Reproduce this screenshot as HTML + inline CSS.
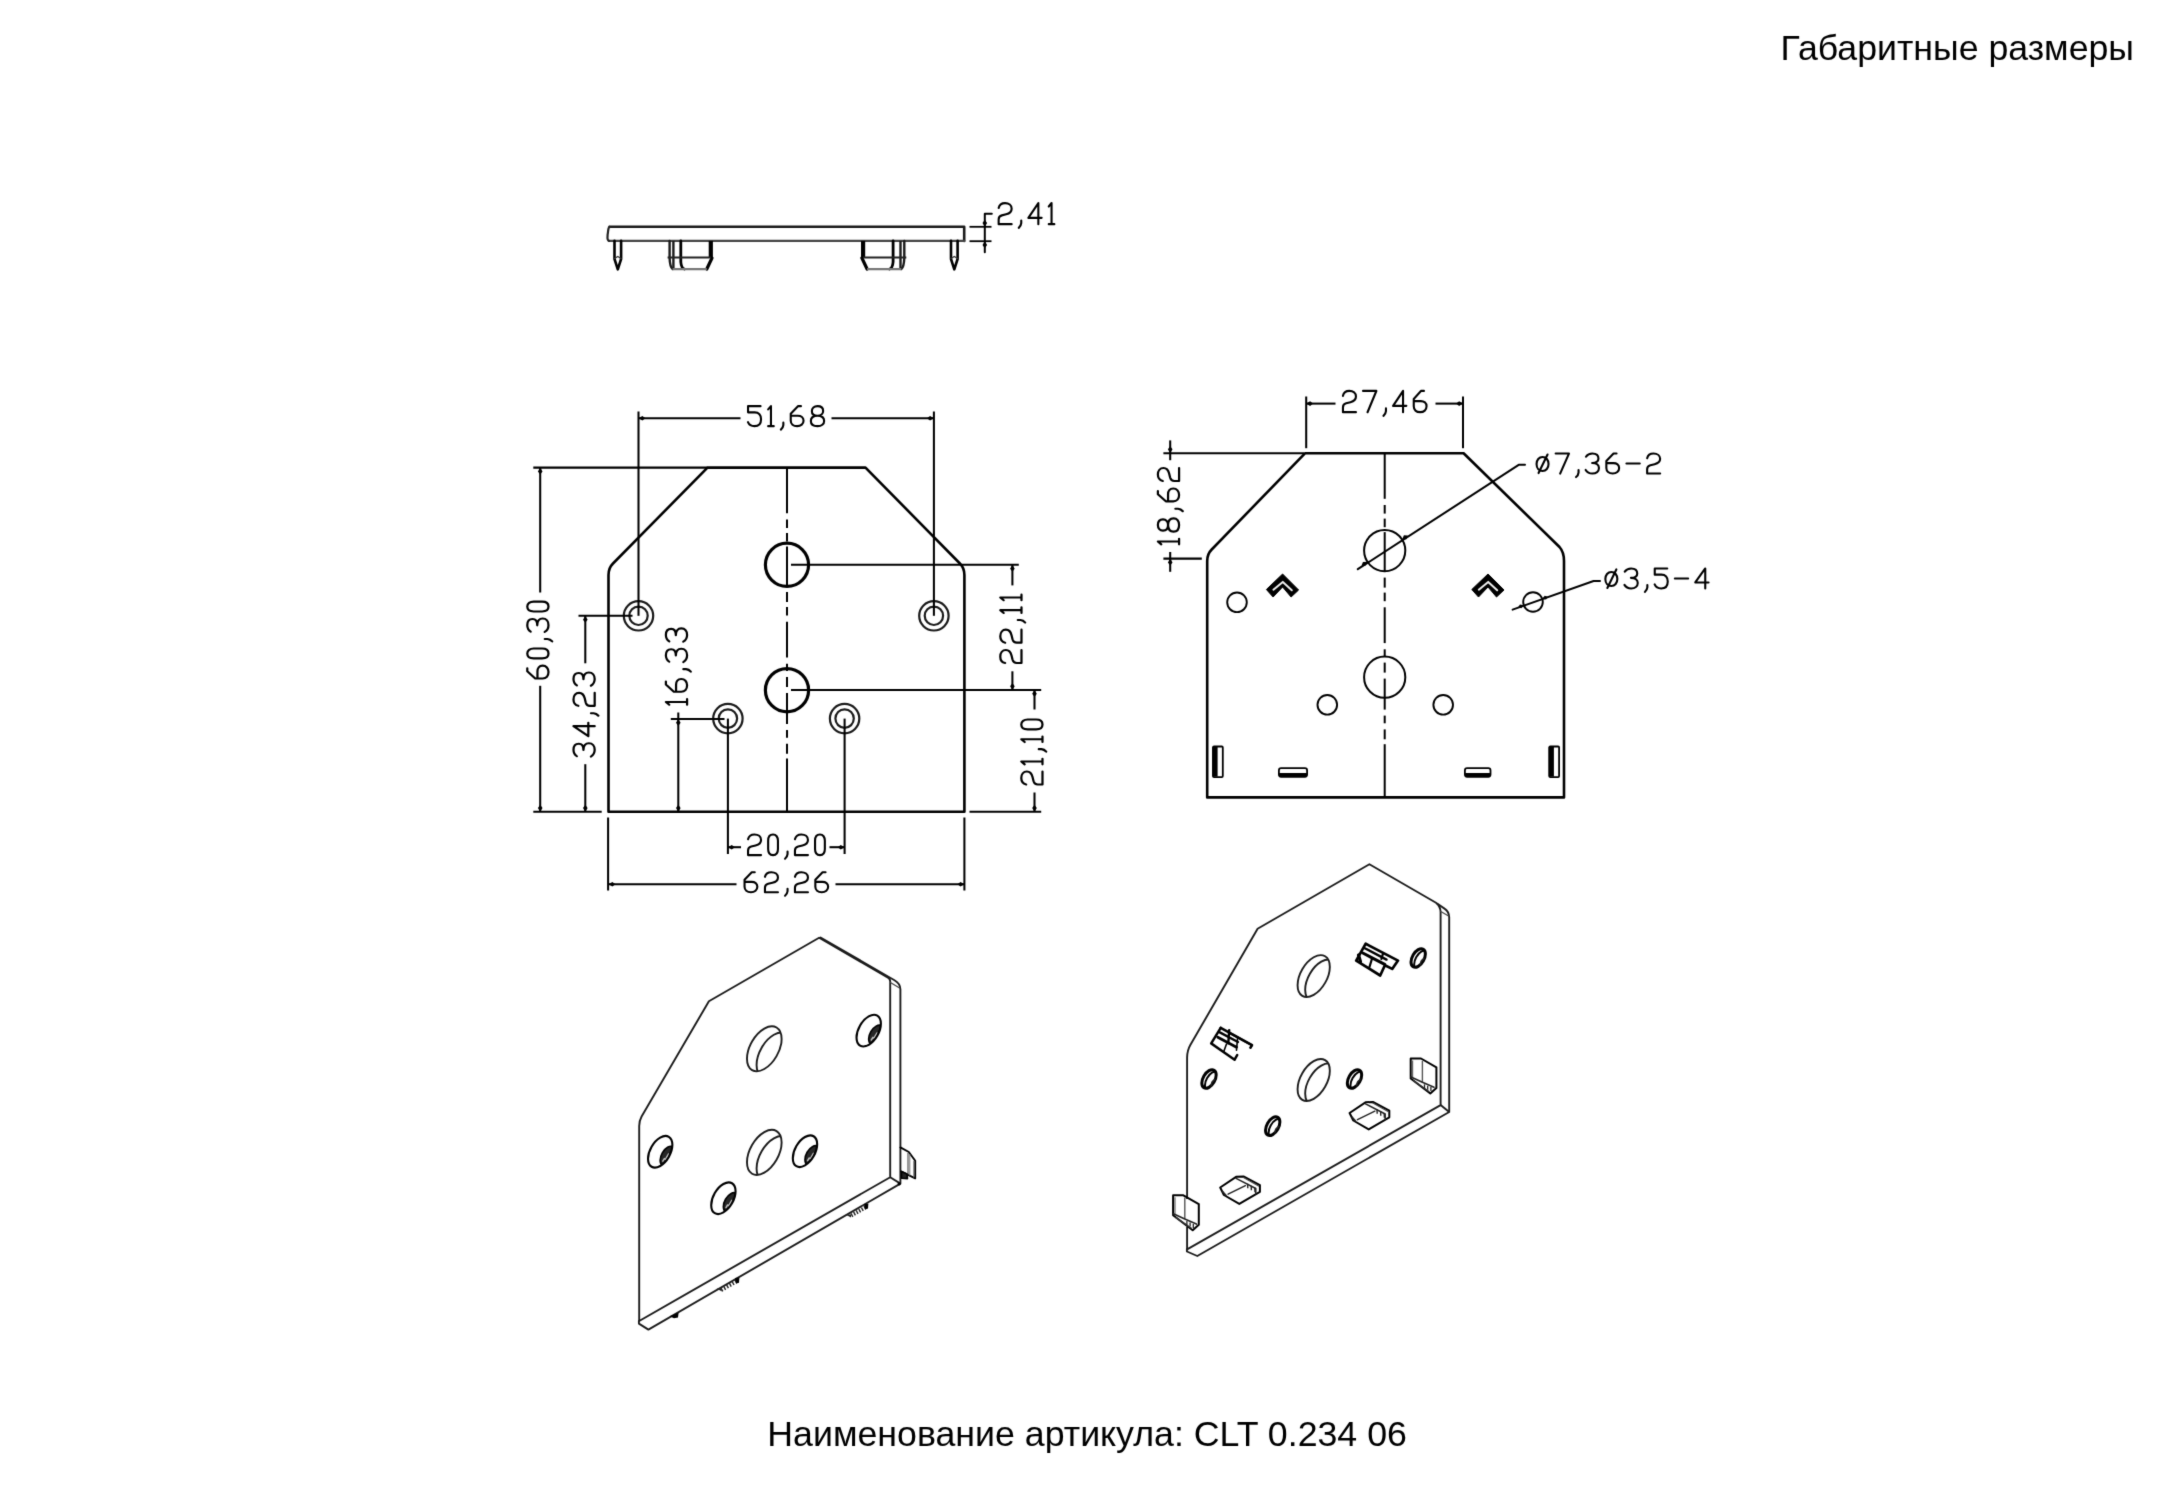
<!DOCTYPE html>
<html lang="ru"><head><meta charset="utf-8"><title>CLT 0.234 06</title>
<style>html,body{margin:0;padding:0;background:#fff;}body{width:2174px;height:1500px;overflow:hidden;font-family:"Liberation Sans",sans-serif;}svg{display:block;}</style></head>
<body><svg width="2174" height="1500" viewBox="0 0 2174 1500"><defs><filter id="soft" x="0" y="0" width="100%" height="100%" filterUnits="userSpaceOnUse" color-interpolation-filters="sRGB"><feConvolveMatrix order="3" kernelMatrix="0.012 0.086 0.012 0.086 0.608 0.086 0.012 0.086 0.012" edgeMode="duplicate" preserveAlpha="false"/></filter><clipPath id="lh1"><circle r="24.6" transform="matrix(0.704,-0.402,0,0.822,764.30,1048.80)"/></clipPath><clipPath id="lh2"><circle r="24.6" transform="matrix(0.704,-0.402,0,0.822,764.30,1152.40)"/></clipPath><clipPath id="ls0"><circle r="17.3" transform="matrix(0.704,-0.402,0,0.822,660.20,1151.80)"/></clipPath><clipPath id="ls1"><circle r="17.3" transform="matrix(0.704,-0.402,0,0.822,805.00,1151.20)"/></clipPath><clipPath id="ls2"><circle r="17.3" transform="matrix(0.704,-0.402,0,0.822,723.40,1198.20)"/></clipPath><clipPath id="ls3"><circle r="17.3" transform="matrix(0.704,-0.402,0,0.822,868.70,1030.60)"/></clipPath><clipPath id="rh1"><circle r="22.9" transform="matrix(0.704,-0.402,0,0.822,1313.70,976.10)"/></clipPath><clipPath id="rh2"><circle r="22.9" transform="matrix(0.704,-0.402,0,0.822,1313.70,1080.00)"/></clipPath><clipPath id="rs0"><circle r="10.6" transform="matrix(0.704,-0.402,0,0.822,1209.00,1079.00)"/></clipPath><clipPath id="rs1"><circle r="10.6" transform="matrix(0.704,-0.402,0,0.822,1272.70,1126.20)"/></clipPath><clipPath id="rs2"><circle r="10.6" transform="matrix(0.704,-0.402,0,0.822,1354.50,1079.00)"/></clipPath><clipPath id="rs3"><circle r="10.6" transform="matrix(0.704,-0.402,0,0.822,1418.20,958.00)"/></clipPath></defs><rect width="2174" height="1500" fill="#fff"/><g id="drawing" filter="url(#soft)"><text x="2134" y="60.1" text-anchor="end" font-family="'Liberation Sans', sans-serif" font-size="35.7" fill="#000" id="hd">Габаритные размеры</text>
<text x="767.3" y="1446.4" font-family="'Liberation Sans', sans-serif" font-size="35.72" fill="#000" id="cap">Наименование артикула: CLT 0.234 06</text>
<path d="M609.6,226.8 L964.2,226.8 L964.2,240.9" fill="none" stroke="#1a1a1a" stroke-width="2.6" stroke-linejoin="round" stroke-linecap="round" />
<path d="M964.2,240.9 L609.1,240.9" fill="none" stroke="#444" stroke-width="2.4" stroke-linejoin="round" stroke-linecap="round" />
<path d="M609.6,226.8 C607.9,227.8 608.4,230.8 607.6,234.8 C607.3000000000001,238.8 607.6,240.9 609.1,240.9" fill="none" stroke="#222" stroke-width="2.2" stroke-linejoin="round" stroke-linecap="round" />
<path d="M614.5,240.9 L614.5,259 L617.8,269.3 L621.0999999999999,259 L621.0999999999999,240.9" fill="none" stroke="#000" stroke-width="2.6" stroke-linejoin="round" stroke-linecap="round" />
<path d="M614.5,258.5 L617.8,256.5 L621.0999999999999,258.5" fill="none" stroke="#333" stroke-width="1.4" stroke-linejoin="round" stroke-linecap="round" />
<path d="M951.0,240.9 L951.0,259 L954.3,269.3 L957.5999999999999,259 L957.5999999999999,240.9" fill="none" stroke="#000" stroke-width="2.6" stroke-linejoin="round" stroke-linecap="round" />
<path d="M951.0,258.5 L954.3,256.5 L957.5999999999999,258.5" fill="none" stroke="#333" stroke-width="1.4" stroke-linejoin="round" stroke-linecap="round" />
<path d="M669.6,240.9 L669.6,258 Q669.9,267 672.6,269" fill="none" stroke="#1a1a1a" stroke-width="2.4" stroke-linejoin="round" stroke-linecap="round" />
<line x1="673.40" y1="240.90" x2="673.40" y2="268.60" stroke="#1a1a1a" stroke-width="2.4" />
<path d="M680.8000000000001,240.9 L680.8000000000001,262 Q681.3000000000001,268 684.3000000000001,269" fill="none" stroke="#000" stroke-width="2.8" stroke-linejoin="round" stroke-linecap="round" />
<line x1="710.80" y1="240.90" x2="710.80" y2="258.00" stroke="#000" stroke-width="4.2" />
<path d="M712.0000000000001,258 L706.8000000000001,269" fill="none" stroke="#000" stroke-width="3.2" stroke-linejoin="round" stroke-linecap="round" />
<line x1="667.60" y1="257.50" x2="710.80" y2="257.50" stroke="#222" stroke-width="2.2" />
<line x1="672.60" y1="269.20" x2="706.80" y2="269.20" stroke="#777" stroke-width="2.2" />
<path d="M904.3,240.9 L904.3,258 Q904.0,267 901.3,269" fill="none" stroke="#1a1a1a" stroke-width="2.4" stroke-linejoin="round" stroke-linecap="round" />
<line x1="900.50" y1="240.90" x2="900.50" y2="268.60" stroke="#1a1a1a" stroke-width="2.4" />
<path d="M893.0999999999999,240.9 L893.0999999999999,262 Q892.5999999999999,268 889.5999999999999,269" fill="none" stroke="#000" stroke-width="2.8" stroke-linejoin="round" stroke-linecap="round" />
<line x1="863.10" y1="240.90" x2="863.10" y2="258.00" stroke="#000" stroke-width="4.2" />
<path d="M861.8999999999999,258 L867.0999999999999,269" fill="none" stroke="#000" stroke-width="3.2" stroke-linejoin="round" stroke-linecap="round" />
<line x1="906.30" y1="257.50" x2="863.10" y2="257.50" stroke="#222" stroke-width="2.2" />
<line x1="901.30" y1="269.20" x2="867.10" y2="269.20" stroke="#777" stroke-width="2.2" />
<line x1="969.50" y1="226.80" x2="991.50" y2="226.80" stroke="#000" stroke-width="1.8" />
<line x1="969.50" y1="241.20" x2="991.50" y2="241.20" stroke="#000" stroke-width="1.8" />
<path d="M991.8,213.8 L984.8,213.8 L984.8,252.3" fill="none" stroke="#000" stroke-width="2.0" stroke-linejoin="round" stroke-linecap="round" />
<polygon points="984.80,226.80 982.50,222.95 984.80,219.80 987.10,222.95" fill="#000"/>
<polygon points="984.80,241.20 987.10,245.05 984.80,248.20 982.50,245.05" fill="#000"/>
<g transform="translate(997.30,225.30) scale(1.0,1.055)" fill="none" stroke="#000" stroke-width="2.1" stroke-linecap="round" stroke-linejoin="round"><path transform="translate(1.05,-21.05)" d="M0.3,4.6 C1,1.5 3.5,0 6.7,0 C10.5,0 13.3,2 13.3,5.3 C13.3,8.2 11.3,9.8 7.8,10.6 L3.5,11.6 C1.2,12.2 0.3,13.6 0.3,15.5 L0.3,20 L13.3,20"/><path transform="translate(21.45,-21.05)" d="M2.5,16.5 L2.5,19 C2.3,21 1.2,22.5 0,23.5"/><path transform="translate(31.05,-21.05)" d="M10,20 L10,0 L0,14 L13.3,14"/><path transform="translate(51.45,-21.05)" d="M0,3.2 L2.8,0 L2.8,20 M0,20 L5.6,20"/></g>
<path d="M608.5,811.8 L608.5,575 Q608.5,568 613.0,563.5 L707.5,467.6 L865.5,467.6 L959.9,563.5 Q964.4,568 964.4,575 L964.4,811.8 Z" fill="none" stroke="#000" stroke-width="2.6" stroke-linejoin="round" stroke-linecap="round" />
<line x1="787.00" y1="467.60" x2="787.00" y2="513.20" stroke="#000" stroke-width="2.0" />
<line x1="787.00" y1="519.40" x2="787.00" y2="528.00" stroke="#000" stroke-width="2.0" />
<line x1="787.00" y1="533.00" x2="787.00" y2="541.60" stroke="#000" stroke-width="2.0" />
<line x1="787.00" y1="546.50" x2="787.00" y2="586.00" stroke="#000" stroke-width="2.0" />
<line x1="787.00" y1="592.00" x2="787.00" y2="602.00" stroke="#000" stroke-width="2.0" />
<line x1="787.00" y1="607.00" x2="787.00" y2="615.60" stroke="#000" stroke-width="2.0" />
<line x1="787.00" y1="621.70" x2="787.00" y2="657.50" stroke="#000" stroke-width="2.0" />
<line x1="787.00" y1="663.70" x2="787.00" y2="671.00" stroke="#000" stroke-width="2.0" />
<line x1="787.00" y1="677.00" x2="787.00" y2="687.00" stroke="#000" stroke-width="2.0" />
<line x1="787.00" y1="693.00" x2="787.00" y2="724.00" stroke="#000" stroke-width="2.0" />
<line x1="787.00" y1="730.00" x2="787.00" y2="737.70" stroke="#000" stroke-width="2.0" />
<line x1="787.00" y1="743.80" x2="787.00" y2="753.70" stroke="#000" stroke-width="2.0" />
<line x1="787.00" y1="758.60" x2="787.00" y2="811.10" stroke="#000" stroke-width="2.0" />
<circle cx="787.00" cy="564.80" r="21.60" fill="none" stroke="#000" stroke-width="3.2"/>
<circle cx="787.00" cy="690.20" r="21.60" fill="none" stroke="#000" stroke-width="3.2"/>
<circle cx="638.50" cy="615.80" r="14.70" fill="none" stroke="#1a1a1a" stroke-width="2.2"/>
<circle cx="638.50" cy="615.80" r="9.20" fill="none" stroke="#1a1a1a" stroke-width="2.2"/>
<circle cx="933.90" cy="615.80" r="14.70" fill="none" stroke="#1a1a1a" stroke-width="2.2"/>
<circle cx="933.90" cy="615.80" r="9.20" fill="none" stroke="#1a1a1a" stroke-width="2.2"/>
<circle cx="727.90" cy="718.60" r="14.70" fill="none" stroke="#1a1a1a" stroke-width="2.2"/>
<circle cx="727.90" cy="718.60" r="9.20" fill="none" stroke="#1a1a1a" stroke-width="2.2"/>
<circle cx="844.60" cy="718.60" r="14.70" fill="none" stroke="#1a1a1a" stroke-width="2.2"/>
<circle cx="844.60" cy="718.60" r="9.20" fill="none" stroke="#1a1a1a" stroke-width="2.2"/>
<line x1="638.50" y1="411.50" x2="638.50" y2="615.80" stroke="#000" stroke-width="2.05" />
<line x1="933.90" y1="411.50" x2="933.90" y2="615.80" stroke="#000" stroke-width="2.05" />
<line x1="638.50" y1="418.20" x2="740.50" y2="418.20" stroke="#000" stroke-width="2.05" />
<line x1="831.50" y1="418.20" x2="933.90" y2="418.20" stroke="#000" stroke-width="2.05" />
<polygon points="638.50,418.20 642.35,415.90 645.50,418.20 642.35,420.50" fill="#000"/>
<polygon points="933.90,418.20 930.05,420.50 926.90,418.20 930.05,415.90" fill="#000"/>
<g transform="translate(746.70,427.20) scale(1.0)" fill="none" stroke="#000" stroke-width="2.1" stroke-linecap="round" stroke-linejoin="round"><path transform="translate(1.05,-21.05)" d="M12.8,0 L0.3,0 L0.3,6.2 L7,6.2 C11,6.2 13.3,9 13.3,13 C13.3,17.3 10.8,20 6.7,20 C3.6,20 1.3,18.6 0.2,16"/><path transform="translate(21.45,-21.05)" d="M0,3.2 L2.8,0 L2.8,20 M0,20 L5.6,20"/><path transform="translate(34.15,-21.05)" d="M2.5,16.5 L2.5,19 C2.3,21 1.2,22.5 0,23.5"/><path transform="translate(43.75,-21.05)" d="M10.5,0 L7.5,0 L0.3,7.5 L0.3,14.5 C0.3,17.8 2.8,20 6.7,20 C10.4,20 13.1,17.8 13.1,14.5 C13.1,11.2 10.6,9.6 7.4,9.6 L0.3,9.6"/><path transform="translate(64.15,-21.05)" d="M6.65,0 C3.2,0 1,1.9 1,4.8 C1,7.7 3.2,9.6 6.65,9.6 C10.1,9.6 12.3,7.7 12.3,4.8 C12.3,1.9 10.1,0 6.65,0 Z M6.65,9.6 C2.6,9.6 0,11.6 0,14.8 C0,18 2.6,20 6.65,20 C10.7,20 13.3,18 13.3,14.8 C13.3,11.6 10.7,9.6 6.65,9.6 Z"/></g>
<line x1="533.30" y1="467.60" x2="707.50" y2="467.60" stroke="#000" stroke-width="2.05" />
<line x1="533.30" y1="811.80" x2="601.70" y2="811.80" stroke="#000" stroke-width="2.05" />
<line x1="540.20" y1="467.60" x2="540.20" y2="592.50" stroke="#000" stroke-width="2.05" />
<line x1="540.20" y1="685.80" x2="540.20" y2="811.80" stroke="#000" stroke-width="2.05" />
<polygon points="540.20,467.60 542.50,471.45 540.20,474.60 537.90,471.45" fill="#000"/>
<polygon points="540.20,811.80 537.90,807.95 540.20,804.80 542.50,807.95" fill="#000"/>
<g transform="translate(549.60,679.80) rotate(-90) scale(1,1.06)" fill="none" stroke="#000" stroke-width="2.1" stroke-linecap="round" stroke-linejoin="round"><path transform="translate(1.05,-21.05)" d="M10.5,0 L7.5,0 L0.3,7.5 L0.3,14.5 C0.3,17.8 2.8,20 6.7,20 C10.4,20 13.1,17.8 13.1,14.5 C13.1,11.2 10.6,9.6 7.4,9.6 L0.3,9.6"/><path transform="translate(21.45,-21.05)" d="M4.9,0 C1.8,0 0,2.5 0,6 L0,14 C0,17.5 1.8,20 4.9,20 C8,20 9.8,17.5 9.8,14 L9.8,6 C9.8,2.5 8,0 4.9,0 Z"/><path transform="translate(38.35,-21.05)" d="M2.5,16.5 L2.5,19 C2.3,21 1.2,22.5 0,23.5"/><path transform="translate(47.95,-21.05)" d="M0.3,3.2 C1.8,1 4,0 6.7,0 C10.5,0 12.8,1.8 12.8,5 C12.8,7.8 10.5,9.4 6.5,9.4 C11,9.4 13.3,11.4 13.3,14.5 C13.3,18 10.5,20 6.7,20 C3.8,20 1.5,18.9 0,16.4"/><path transform="translate(68.35,-21.05)" d="M4.9,0 C1.8,0 0,2.5 0,6 L0,14 C0,17.5 1.8,20 4.9,20 C8,20 9.8,17.5 9.8,14 L9.8,6 C9.8,2.5 8,0 4.9,0 Z"/></g>
<line x1="578.50" y1="615.80" x2="632.50" y2="615.80" stroke="#000" stroke-width="2.05" />
<line x1="585.30" y1="615.80" x2="585.30" y2="663.30" stroke="#000" stroke-width="2.05" />
<line x1="585.30" y1="764.20" x2="585.30" y2="811.80" stroke="#000" stroke-width="2.05" />
<polygon points="585.30,615.80 587.60,619.65 585.30,622.80 583.00,619.65" fill="#000"/>
<polygon points="585.30,811.80 583.00,807.95 585.30,804.80 587.60,807.95" fill="#000"/>
<g transform="translate(595.80,757.60) rotate(-90) scale(1,1.06)" fill="none" stroke="#000" stroke-width="2.1" stroke-linecap="round" stroke-linejoin="round"><path transform="translate(1.05,-21.05)" d="M0.3,3.2 C1.8,1 4,0 6.7,0 C10.5,0 12.8,1.8 12.8,5 C12.8,7.8 10.5,9.4 6.5,9.4 C11,9.4 13.3,11.4 13.3,14.5 C13.3,18 10.5,20 6.7,20 C3.8,20 1.5,18.9 0,16.4"/><path transform="translate(21.45,-21.05)" d="M10,20 L10,0 L0,14 L13.3,14"/><path transform="translate(41.85,-21.05)" d="M2.5,16.5 L2.5,19 C2.3,21 1.2,22.5 0,23.5"/><path transform="translate(51.45,-21.05)" d="M0.3,4.6 C1,1.5 3.5,0 6.7,0 C10.5,0 13.3,2 13.3,5.3 C13.3,8.2 11.3,9.8 7.8,10.6 L3.5,11.6 C1.2,12.2 0.3,13.6 0.3,15.5 L0.3,20 L13.3,20"/><path transform="translate(71.85,-21.05)" d="M0.3,3.2 C1.8,1 4,0 6.7,0 C10.5,0 12.8,1.8 12.8,5 C12.8,7.8 10.5,9.4 6.5,9.4 C11,9.4 13.3,11.4 13.3,14.5 C13.3,18 10.5,20 6.7,20 C3.8,20 1.5,18.9 0,16.4"/></g>
<line x1="670.80" y1="719.00" x2="724.50" y2="719.00" stroke="#000" stroke-width="2.05" />
<line x1="678.30" y1="712.50" x2="678.30" y2="811.80" stroke="#000" stroke-width="2.05" />
<polygon points="678.30,719.00 680.60,722.85 678.30,726.00 676.00,722.85" fill="#000"/>
<polygon points="678.30,811.80 676.00,807.95 678.30,804.80 680.60,807.95" fill="#000"/>
<g transform="translate(688.20,705.80) rotate(-90) scale(1,1.06)" fill="none" stroke="#000" stroke-width="2.1" stroke-linecap="round" stroke-linejoin="round"><path transform="translate(1.05,-21.05)" d="M0,3.2 L2.8,0 L2.8,20 M0,20 L5.6,20"/><path transform="translate(13.75,-21.05)" d="M10.5,0 L7.5,0 L0.3,7.5 L0.3,14.5 C0.3,17.8 2.8,20 6.7,20 C10.4,20 13.1,17.8 13.1,14.5 C13.1,11.2 10.6,9.6 7.4,9.6 L0.3,9.6"/><path transform="translate(34.15,-21.05)" d="M2.5,16.5 L2.5,19 C2.3,21 1.2,22.5 0,23.5"/><path transform="translate(43.75,-21.05)" d="M0.3,3.2 C1.8,1 4,0 6.7,0 C10.5,0 12.8,1.8 12.8,5 C12.8,7.8 10.5,9.4 6.5,9.4 C11,9.4 13.3,11.4 13.3,14.5 C13.3,18 10.5,20 6.7,20 C3.8,20 1.5,18.9 0,16.4"/><path transform="translate(64.15,-21.05)" d="M0.3,3.2 C1.8,1 4,0 6.7,0 C10.5,0 12.8,1.8 12.8,5 C12.8,7.8 10.5,9.4 6.5,9.4 C11,9.4 13.3,11.4 13.3,14.5 C13.3,18 10.5,20 6.7,20 C3.8,20 1.5,18.9 0,16.4"/></g>
<line x1="791.00" y1="564.80" x2="1018.80" y2="564.80" stroke="#000" stroke-width="2.05" />
<line x1="791.00" y1="690.00" x2="1041.20" y2="690.00" stroke="#000" stroke-width="2.05" />
<line x1="1012.40" y1="564.80" x2="1012.40" y2="585.40" stroke="#000" stroke-width="2.05" />
<line x1="1012.40" y1="671.30" x2="1012.40" y2="690.00" stroke="#000" stroke-width="2.05" />
<polygon points="1012.40,564.80 1014.70,568.65 1012.40,571.80 1010.10,568.65" fill="#000"/>
<polygon points="1012.40,690.00 1010.10,686.15 1012.40,683.00 1014.70,686.15" fill="#000"/>
<g transform="translate(1022.60,664.40) rotate(-90) scale(1,1.06)" fill="none" stroke="#000" stroke-width="2.1" stroke-linecap="round" stroke-linejoin="round"><path transform="translate(1.05,-21.05)" d="M0.3,4.6 C1,1.5 3.5,0 6.7,0 C10.5,0 13.3,2 13.3,5.3 C13.3,8.2 11.3,9.8 7.8,10.6 L3.5,11.6 C1.2,12.2 0.3,13.6 0.3,15.5 L0.3,20 L13.3,20"/><path transform="translate(21.45,-21.05)" d="M0.3,4.6 C1,1.5 3.5,0 6.7,0 C10.5,0 13.3,2 13.3,5.3 C13.3,8.2 11.3,9.8 7.8,10.6 L3.5,11.6 C1.2,12.2 0.3,13.6 0.3,15.5 L0.3,20 L13.3,20"/><path transform="translate(41.85,-21.05)" d="M2.5,16.5 L2.5,19 C2.3,21 1.2,22.5 0,23.5"/><path transform="translate(51.45,-21.05)" d="M0,3.2 L2.8,0 L2.8,20 M0,20 L5.6,20"/><path transform="translate(64.15,-21.05)" d="M0,3.2 L2.8,0 L2.8,20 M0,20 L5.6,20"/></g>
<line x1="969.50" y1="811.80" x2="1041.20" y2="811.80" stroke="#000" stroke-width="2.05" />
<line x1="1034.50" y1="690.00" x2="1034.50" y2="709.50" stroke="#000" stroke-width="2.05" />
<line x1="1034.50" y1="792.50" x2="1034.50" y2="811.80" stroke="#000" stroke-width="2.05" />
<polygon points="1034.50,690.00 1036.80,693.85 1034.50,697.00 1032.20,693.85" fill="#000"/>
<polygon points="1034.50,811.80 1032.20,807.95 1034.50,804.80 1036.80,807.95" fill="#000"/>
<g transform="translate(1043.60,785.80) rotate(-90) scale(1,1.06)" fill="none" stroke="#000" stroke-width="2.1" stroke-linecap="round" stroke-linejoin="round"><path transform="translate(1.05,-21.05)" d="M0.3,4.6 C1,1.5 3.5,0 6.7,0 C10.5,0 13.3,2 13.3,5.3 C13.3,8.2 11.3,9.8 7.8,10.6 L3.5,11.6 C1.2,12.2 0.3,13.6 0.3,15.5 L0.3,20 L13.3,20"/><path transform="translate(21.45,-21.05)" d="M0,3.2 L2.8,0 L2.8,20 M0,20 L5.6,20"/><path transform="translate(34.15,-21.05)" d="M2.5,16.5 L2.5,19 C2.3,21 1.2,22.5 0,23.5"/><path transform="translate(43.75,-21.05)" d="M0,3.2 L2.8,0 L2.8,20 M0,20 L5.6,20"/><path transform="translate(56.45,-21.05)" d="M4.9,0 C1.8,0 0,2.5 0,6 L0,14 C0,17.5 1.8,20 4.9,20 C8,20 9.8,17.5 9.8,14 L9.8,6 C9.8,2.5 8,0 4.9,0 Z"/></g>
<line x1="727.90" y1="718.60" x2="727.90" y2="854.00" stroke="#000" stroke-width="2.05" />
<line x1="844.60" y1="718.60" x2="844.60" y2="854.00" stroke="#000" stroke-width="2.05" />
<line x1="727.90" y1="847.20" x2="741.00" y2="847.20" stroke="#000" stroke-width="2.05" />
<line x1="829.50" y1="847.20" x2="844.60" y2="847.20" stroke="#000" stroke-width="2.05" />
<polygon points="727.90,847.20 731.75,844.90 734.90,847.20 731.75,849.50" fill="#000"/>
<polygon points="844.60,847.20 840.75,849.50 837.60,847.20 840.75,844.90" fill="#000"/>
<g transform="translate(746.70,856.20) scale(1.0,1.03)" fill="none" stroke="#000" stroke-width="2.1" stroke-linecap="round" stroke-linejoin="round"><path transform="translate(1.05,-21.05)" d="M0.3,4.6 C1,1.5 3.5,0 6.7,0 C10.5,0 13.3,2 13.3,5.3 C13.3,8.2 11.3,9.8 7.8,10.6 L3.5,11.6 C1.2,12.2 0.3,13.6 0.3,15.5 L0.3,20 L13.3,20"/><path transform="translate(21.45,-21.05)" d="M4.9,0 C1.8,0 0,2.5 0,6 L0,14 C0,17.5 1.8,20 4.9,20 C8,20 9.8,17.5 9.8,14 L9.8,6 C9.8,2.5 8,0 4.9,0 Z"/><path transform="translate(38.35,-21.05)" d="M2.5,16.5 L2.5,19 C2.3,21 1.2,22.5 0,23.5"/><path transform="translate(47.95,-21.05)" d="M0.3,4.6 C1,1.5 3.5,0 6.7,0 C10.5,0 13.3,2 13.3,5.3 C13.3,8.2 11.3,9.8 7.8,10.6 L3.5,11.6 C1.2,12.2 0.3,13.6 0.3,15.5 L0.3,20 L13.3,20"/><path transform="translate(68.35,-21.05)" d="M4.9,0 C1.8,0 0,2.5 0,6 L0,14 C0,17.5 1.8,20 4.9,20 C8,20 9.8,17.5 9.8,14 L9.8,6 C9.8,2.5 8,0 4.9,0 Z"/></g>
<line x1="608.10" y1="817.50" x2="608.10" y2="890.50" stroke="#000" stroke-width="2.05" />
<line x1="964.40" y1="817.50" x2="964.40" y2="890.50" stroke="#000" stroke-width="2.05" />
<line x1="608.50" y1="884.20" x2="736.50" y2="884.20" stroke="#000" stroke-width="2.05" />
<line x1="835.50" y1="884.20" x2="964.40" y2="884.20" stroke="#000" stroke-width="2.05" />
<polygon points="608.50,884.20 612.35,881.90 615.50,884.20 612.35,886.50" fill="#000"/>
<polygon points="964.40,884.20 960.55,886.50 957.40,884.20 960.55,881.90" fill="#000"/>
<g transform="translate(743.20,893.30) scale(1.0)" fill="none" stroke="#000" stroke-width="2.1" stroke-linecap="round" stroke-linejoin="round"><path transform="translate(1.05,-21.05)" d="M10.5,0 L7.5,0 L0.3,7.5 L0.3,14.5 C0.3,17.8 2.8,20 6.7,20 C10.4,20 13.1,17.8 13.1,14.5 C13.1,11.2 10.6,9.6 7.4,9.6 L0.3,9.6"/><path transform="translate(21.45,-21.05)" d="M0.3,4.6 C1,1.5 3.5,0 6.7,0 C10.5,0 13.3,2 13.3,5.3 C13.3,8.2 11.3,9.8 7.8,10.6 L3.5,11.6 C1.2,12.2 0.3,13.6 0.3,15.5 L0.3,20 L13.3,20"/><path transform="translate(41.85,-21.05)" d="M2.5,16.5 L2.5,19 C2.3,21 1.2,22.5 0,23.5"/><path transform="translate(51.45,-21.05)" d="M0.3,4.6 C1,1.5 3.5,0 6.7,0 C10.5,0 13.3,2 13.3,5.3 C13.3,8.2 11.3,9.8 7.8,10.6 L3.5,11.6 C1.2,12.2 0.3,13.6 0.3,15.5 L0.3,20 L13.3,20"/><path transform="translate(71.85,-21.05)" d="M10.5,0 L7.5,0 L0.3,7.5 L0.3,14.5 C0.3,17.8 2.8,20 6.7,20 C10.4,20 13.1,17.8 13.1,14.5 C13.1,11.2 10.6,9.6 7.4,9.6 L0.3,9.6"/></g>
<path d="M1207.2,797.4 L1207.2,561 Q1207.2,554 1211.7,549.5 L1305.2,453.2 L1463.6,453.2 L1559.5,547 Q1564.0,552 1564.0,561 L1564.0,797.4 Z" fill="none" stroke="#000" stroke-width="2.6" stroke-linejoin="round" stroke-linecap="round" />
<line x1="1384.70" y1="453.20" x2="1384.70" y2="498.80" stroke="#000" stroke-width="2.0" />
<line x1="1384.70" y1="505.00" x2="1384.70" y2="513.60" stroke="#000" stroke-width="2.0" />
<line x1="1384.70" y1="518.60" x2="1384.70" y2="527.20" stroke="#000" stroke-width="2.0" />
<line x1="1384.70" y1="532.10" x2="1384.70" y2="571.60" stroke="#000" stroke-width="2.0" />
<line x1="1384.70" y1="577.60" x2="1384.70" y2="587.60" stroke="#000" stroke-width="2.0" />
<line x1="1384.70" y1="592.60" x2="1384.70" y2="601.20" stroke="#000" stroke-width="2.0" />
<line x1="1384.70" y1="607.30" x2="1384.70" y2="643.10" stroke="#000" stroke-width="2.0" />
<line x1="1384.70" y1="649.30" x2="1384.70" y2="656.60" stroke="#000" stroke-width="2.0" />
<line x1="1384.70" y1="662.60" x2="1384.70" y2="672.60" stroke="#000" stroke-width="2.0" />
<line x1="1384.70" y1="678.60" x2="1384.70" y2="709.60" stroke="#000" stroke-width="2.0" />
<line x1="1384.70" y1="715.60" x2="1384.70" y2="723.30" stroke="#000" stroke-width="2.0" />
<line x1="1384.70" y1="729.40" x2="1384.70" y2="739.30" stroke="#000" stroke-width="2.0" />
<line x1="1384.70" y1="744.20" x2="1384.70" y2="796.70" stroke="#000" stroke-width="2.0" />
<circle cx="1384.70" cy="550.60" r="20.60" fill="none" stroke="#000" stroke-width="2.0"/>
<circle cx="1384.70" cy="677.20" r="20.60" fill="none" stroke="#000" stroke-width="2.0"/>
<circle cx="1237.00" cy="602.30" r="9.80" fill="none" stroke="#000" stroke-width="1.9"/>
<circle cx="1533.00" cy="602.00" r="9.80" fill="none" stroke="#000" stroke-width="1.9"/>
<circle cx="1327.30" cy="704.80" r="9.80" fill="none" stroke="#000" stroke-width="1.9"/>
<circle cx="1443.20" cy="704.80" r="9.80" fill="none" stroke="#000" stroke-width="1.9"/>
<polygon points="1282.6,574.0 1298.6,590.0 1291.1,597.0 1282.6,587.0 1273.1,597.0 1266.4,589.5" fill="#000" stroke="#000" stroke-width="1" stroke-linejoin="round"/>
<path d="M1273.3999999999999,589.7 L1282.8,581.9 L1291.8,590.3" fill="none" stroke="#ececec" stroke-width="2.0" stroke-linejoin="round" stroke-linecap="round"/>
<polygon points="1488.0,574.0 1504.0,590.0 1496.5,597.0 1488.0,587.0 1478.5,597.0 1471.8,589.5" fill="#000" stroke="#000" stroke-width="1" stroke-linejoin="round"/>
<path d="M1478.8,589.7 L1488.2,581.9 L1497.2,590.3" fill="none" stroke="#ececec" stroke-width="2.0" stroke-linejoin="round" stroke-linecap="round"/>
<rect x="1213.0" y="746.5" width="9.8" height="30.6" rx="1" fill="#fff" stroke="#000" stroke-width="1.8"/>
<rect x="1212.4" y="747" width="5.2" height="29.6" fill="#000"/>
<rect x="1549.3" y="746.5" width="9.8" height="30.6" rx="1" fill="#fff" stroke="#000" stroke-width="1.8"/>
<rect x="1548.7" y="747" width="5.2" height="29.6" fill="#000"/>
<rect x="1278.9" y="768.2" width="28.2" height="8.6" rx="2.2" fill="#fff" stroke="#000" stroke-width="1.8"/>
<rect x="1278.9" y="773" width="28.2" height="3.6" rx="1" fill="#000"/>
<rect x="1464.9" y="768.2" width="25.6" height="8.6" rx="2.2" fill="#fff" stroke="#000" stroke-width="1.8"/>
<rect x="1464.9" y="773" width="25.6" height="3.6" rx="1" fill="#000"/>
<line x1="1306.20" y1="396.50" x2="1306.20" y2="448.20" stroke="#000" stroke-width="2.05" />
<line x1="1463.00" y1="396.50" x2="1463.00" y2="448.20" stroke="#000" stroke-width="2.05" />
<line x1="1306.20" y1="403.60" x2="1335.50" y2="403.60" stroke="#000" stroke-width="2.05" />
<line x1="1435.50" y1="403.60" x2="1463.00" y2="403.60" stroke="#000" stroke-width="2.05" />
<polygon points="1306.20,403.60 1310.05,401.30 1313.20,403.60 1310.05,405.90" fill="#000"/>
<polygon points="1463.00,403.60 1459.15,405.90 1456.00,403.60 1459.15,401.30" fill="#000"/>
<g transform="translate(1341.60,413.30) scale(1.0,1.06)" fill="none" stroke="#000" stroke-width="2.1" stroke-linecap="round" stroke-linejoin="round"><path transform="translate(1.05,-21.05)" d="M0.3,4.6 C1,1.5 3.5,0 6.7,0 C10.5,0 13.3,2 13.3,5.3 C13.3,8.2 11.3,9.8 7.8,10.6 L3.5,11.6 C1.2,12.2 0.3,13.6 0.3,15.5 L0.3,20 L13.3,20"/><path transform="translate(21.45,-21.05)" d="M0,0 L13.3,0 L4.5,20"/><path transform="translate(41.85,-21.05)" d="M2.5,16.5 L2.5,19 C2.3,21 1.2,22.5 0,23.5"/><path transform="translate(51.45,-21.05)" d="M10,20 L10,0 L0,14 L13.3,14"/><path transform="translate(71.85,-21.05)" d="M10.5,0 L7.5,0 L0.3,7.5 L0.3,14.5 C0.3,17.8 2.8,20 6.7,20 C10.4,20 13.1,17.8 13.1,14.5 C13.1,11.2 10.6,9.6 7.4,9.6 L0.3,9.6"/></g>
<line x1="1163.40" y1="453.20" x2="1304.00" y2="453.20" stroke="#000" stroke-width="2.05" />
<line x1="1163.40" y1="558.60" x2="1201.80" y2="558.60" stroke="#000" stroke-width="2.05" />
<line x1="1170.20" y1="440.40" x2="1170.20" y2="460.20" stroke="#000" stroke-width="2.05" />
<line x1="1170.20" y1="552.00" x2="1170.20" y2="571.80" stroke="#000" stroke-width="2.05" />
<polygon points="1170.20,453.20 1167.90,449.35 1170.20,446.20 1172.50,449.35" fill="#000"/>
<polygon points="1170.20,558.60 1172.50,562.45 1170.20,565.60 1167.90,562.45" fill="#000"/>
<g transform="translate(1180.20,545.40) rotate(-90) scale(1,1.06)" fill="none" stroke="#000" stroke-width="2.1" stroke-linecap="round" stroke-linejoin="round"><path transform="translate(1.05,-21.05)" d="M0,3.2 L2.8,0 L2.8,20 M0,20 L5.6,20"/><path transform="translate(13.75,-21.05)" d="M6.65,0 C3.2,0 1,1.9 1,4.8 C1,7.7 3.2,9.6 6.65,9.6 C10.1,9.6 12.3,7.7 12.3,4.8 C12.3,1.9 10.1,0 6.65,0 Z M6.65,9.6 C2.6,9.6 0,11.6 0,14.8 C0,18 2.6,20 6.65,20 C10.7,20 13.3,18 13.3,14.8 C13.3,11.6 10.7,9.6 6.65,9.6 Z"/><path transform="translate(34.15,-21.05)" d="M2.5,16.5 L2.5,19 C2.3,21 1.2,22.5 0,23.5"/><path transform="translate(43.75,-21.05)" d="M10.5,0 L7.5,0 L0.3,7.5 L0.3,14.5 C0.3,17.8 2.8,20 6.7,20 C10.4,20 13.1,17.8 13.1,14.5 C13.1,11.2 10.6,9.6 7.4,9.6 L0.3,9.6"/><path transform="translate(64.15,-21.05)" d="M0.3,4.6 C1,1.5 3.5,0 6.7,0 C10.5,0 13.3,2 13.3,5.3 C13.3,8.2 11.3,9.8 7.8,10.6 L3.5,11.6 C1.2,12.2 0.3,13.6 0.3,15.5 L0.3,20 L13.3,20"/></g>
<path d="M1357.8,569.2 L1518.7,464.8 L1525,464.8" fill="none" stroke="#000" stroke-width="2.0" stroke-linejoin="round" stroke-linecap="round" />
<polygon points="1401.98,539.39 1403.96,535.36 1407.85,535.58 1406.46,539.22" fill="#000"/>
<polygon points="1367.42,561.81 1365.44,565.84 1361.55,565.62 1362.94,561.98" fill="#000"/>
<g transform="translate(1535.50,474.60) scale(1.0)" fill="none" stroke="#000" stroke-width="2.1" stroke-linecap="round" stroke-linejoin="round"><path transform="translate(1.05,-21.05)" d="M6,3.5 C2.5,3.5 0,6.5 0,10.5 C0,14.5 2.5,17.5 6,17.5 C9.5,17.5 12,14.5 12,10.5 C12,6.5 9.5,3.5 6,3.5 Z M2,19.5 L11,1"/><path transform="translate(20.15,-21.05)" d="M0,0 L13.3,0 L4.5,20"/><path transform="translate(40.55,-21.05)" d="M2.5,16.5 L2.5,19 C2.3,21 1.2,22.5 0,23.5"/><path transform="translate(50.15,-21.05)" d="M0.3,3.2 C1.8,1 4,0 6.7,0 C10.5,0 12.8,1.8 12.8,5 C12.8,7.8 10.5,9.4 6.5,9.4 C11,9.4 13.3,11.4 13.3,14.5 C13.3,18 10.5,20 6.7,20 C3.8,20 1.5,18.9 0,16.4"/><path transform="translate(70.55,-21.05)" d="M10.5,0 L7.5,0 L0.3,7.5 L0.3,14.5 C0.3,17.8 2.8,20 6.7,20 C10.4,20 13.1,17.8 13.1,14.5 C13.1,11.2 10.6,9.6 7.4,9.6 L0.3,9.6"/><path transform="translate(90.95,-21.05)" d="M0,10 L13.3,10"/><path transform="translate(111.35,-21.05)" d="M0.3,4.6 C1,1.5 3.5,0 6.7,0 C10.5,0 13.3,2 13.3,5.3 C13.3,8.2 11.3,9.8 7.8,10.6 L3.5,11.6 C1.2,12.2 0.3,13.6 0.3,15.5 L0.3,20 L13.3,20"/></g>
<path d="M1512.6,609.6 L1593.6,581 L1600,581" fill="none" stroke="#000" stroke-width="2.0" stroke-linejoin="round" stroke-linecap="round" />
<polygon points="1542.24,598.74 1544.69,595.75 1547.90,596.74 1546.02,599.52" fill="#000"/>
<polygon points="1523.76,605.26 1521.31,608.25 1518.10,607.26 1519.98,604.48" fill="#000"/>
<g transform="translate(1604.30,589.50) scale(1.0)" fill="none" stroke="#000" stroke-width="2.1" stroke-linecap="round" stroke-linejoin="round"><path transform="translate(1.05,-21.05)" d="M6,3.5 C2.5,3.5 0,6.5 0,10.5 C0,14.5 2.5,17.5 6,17.5 C9.5,17.5 12,14.5 12,10.5 C12,6.5 9.5,3.5 6,3.5 Z M2,19.5 L11,1"/><path transform="translate(20.15,-21.05)" d="M0.3,3.2 C1.8,1 4,0 6.7,0 C10.5,0 12.8,1.8 12.8,5 C12.8,7.8 10.5,9.4 6.5,9.4 C11,9.4 13.3,11.4 13.3,14.5 C13.3,18 10.5,20 6.7,20 C3.8,20 1.5,18.9 0,16.4"/><path transform="translate(40.55,-21.05)" d="M2.5,16.5 L2.5,19 C2.3,21 1.2,22.5 0,23.5"/><path transform="translate(50.15,-21.05)" d="M12.8,0 L0.3,0 L0.3,6.2 L7,6.2 C11,6.2 13.3,9 13.3,13 C13.3,17.3 10.8,20 6.7,20 C3.6,20 1.3,18.6 0.2,16"/><path transform="translate(70.55,-21.05)" d="M0,10 L13.3,10"/><path transform="translate(90.95,-21.05)" d="M10,20 L10,0 L0,14 L13.3,14"/></g>
<path d="M639.2,1321.0 L890.2,1177.2 L890.2,981.6 Q890.2,979 888.0,977.6 L819.1,937.7 L708.9,1001.2 L641.6,1116.5 Q639.2,1120.8 639.2,1126.0 Z" fill="none" stroke="#1c1c1c" stroke-width="1.9" stroke-linejoin="round" stroke-linecap="round" />
<path d="M638.9000000000001,1321.0 L638.9000000000001,1323.6 L648.4,1329.6 L900.4,1183.6 L900.4,989.2 Q900.2,983.5 894.5,980.2 L820.6,937.5" fill="none" stroke="#1c1c1c" stroke-width="1.9" stroke-linejoin="round" stroke-linecap="round" />
<line x1="890.20" y1="1177.20" x2="900.40" y2="1183.60" stroke="#1c1c1c" stroke-width="1.9" />
<path d="M890.4,982.5 L899.6,988" fill="none" stroke="#444" stroke-width="1.3" stroke-linejoin="round" stroke-linecap="round" />
<g clip-path="url(#lh1)">
<circle r="24.6" transform="matrix(0.704,-0.402,0,0.822,773.90,1055.00)" fill="none" stroke="#1c1c1c" stroke-width="1.9" vector-effect="non-scaling-stroke" />
</g>
<circle r="24.6" transform="matrix(0.704,-0.402,0,0.822,764.30,1048.80)" fill="none" stroke="#1c1c1c" stroke-width="1.9" vector-effect="non-scaling-stroke" />
<g clip-path="url(#lh2)">
<circle r="24.6" transform="matrix(0.704,-0.402,0,0.822,773.90,1158.60)" fill="none" stroke="#1c1c1c" stroke-width="1.9" vector-effect="non-scaling-stroke" />
</g>
<circle r="24.6" transform="matrix(0.704,-0.402,0,0.822,764.30,1152.40)" fill="none" stroke="#1c1c1c" stroke-width="1.9" vector-effect="non-scaling-stroke" />
<g clip-path="url(#ls0)">
<circle r="10.6" transform="matrix(0.704,-0.402,0,0.822,667.60,1156.00)" fill="#262626" stroke="#000" stroke-width="1.6" vector-effect="non-scaling-stroke" />
<path d="M665.4,1159.4 L668.6,1154.0 M662.8,1161.2 L664.4,1158.6" stroke="#bdbdbd" stroke-width="1.5" fill="none" stroke-linecap="round"/>
</g>
<circle r="17.3" transform="matrix(0.704,-0.402,0,0.822,660.20,1151.80)" fill="none" stroke="#000" stroke-width="2.1" vector-effect="non-scaling-stroke" />
<g clip-path="url(#ls1)">
<circle r="10.6" transform="matrix(0.704,-0.402,0,0.822,812.40,1155.40)" fill="#262626" stroke="#000" stroke-width="1.6" vector-effect="non-scaling-stroke" />
<path d="M810.2,1158.8 L813.4,1153.4 M807.6,1160.6 L809.2,1158.0" stroke="#bdbdbd" stroke-width="1.5" fill="none" stroke-linecap="round"/>
</g>
<circle r="17.3" transform="matrix(0.704,-0.402,0,0.822,805.00,1151.20)" fill="none" stroke="#000" stroke-width="2.1" vector-effect="non-scaling-stroke" />
<g clip-path="url(#ls2)">
<circle r="10.6" transform="matrix(0.704,-0.402,0,0.822,730.80,1202.40)" fill="#262626" stroke="#000" stroke-width="1.6" vector-effect="non-scaling-stroke" />
<path d="M728.6,1205.8 L731.8,1200.4 M726.0,1207.6 L727.6,1205.0" stroke="#bdbdbd" stroke-width="1.5" fill="none" stroke-linecap="round"/>
</g>
<circle r="17.3" transform="matrix(0.704,-0.402,0,0.822,723.40,1198.20)" fill="none" stroke="#000" stroke-width="2.1" vector-effect="non-scaling-stroke" />
<g clip-path="url(#ls3)">
<circle r="10.6" transform="matrix(0.704,-0.402,0,0.822,876.10,1034.80)" fill="#262626" stroke="#000" stroke-width="1.6" vector-effect="non-scaling-stroke" />
<path d="M873.9,1038.2 L877.1,1032.8 M871.3,1040.0 L872.9,1037.4" stroke="#bdbdbd" stroke-width="1.5" fill="none" stroke-linecap="round"/>
</g>
<circle r="17.3" transform="matrix(0.704,-0.402,0,0.822,868.70,1030.60)" fill="none" stroke="#000" stroke-width="2.1" vector-effect="non-scaling-stroke" />
<path d="M900.4,1147.4 L908.8,1152 L915.2,1160.8 L915.2,1178.4 L901,1171.4" fill="none" stroke="#000" stroke-width="1.9" stroke-linejoin="round" stroke-linecap="round" />
<line x1="908.00" y1="1153.00" x2="908.00" y2="1174.50" stroke="#555" stroke-width="1.2" />
<line x1="909.80" y1="1154.00" x2="909.80" y2="1175.50" stroke="#777" stroke-width="1.0" />
<line x1="913.80" y1="1160.80" x2="913.80" y2="1177.60" stroke="#666" stroke-width="1.0" />
<path d="M901.5,1171.5 L907,1174 L907.5,1178.6 L901.5,1178.2 Z" fill="#222" stroke="#000" stroke-width="1.6" stroke-linejoin="round" stroke-linecap="round" />
<circle cx="899.2" cy="1183.8" r="1.6" fill="#000"/>
<line x1="851.00" y1="1213.40" x2="852.80" y2="1216.80" stroke="#222" stroke-width="1.4" />
<line x1="853.60" y1="1211.92" x2="855.40" y2="1215.32" stroke="#222" stroke-width="1.4" />
<line x1="856.20" y1="1210.44" x2="858.00" y2="1213.84" stroke="#222" stroke-width="1.4" />
<line x1="858.80" y1="1208.96" x2="860.60" y2="1212.36" stroke="#222" stroke-width="1.4" />
<line x1="861.40" y1="1207.48" x2="863.20" y2="1210.88" stroke="#222" stroke-width="1.4" />
<line x1="864.00" y1="1206.00" x2="865.80" y2="1209.40" stroke="#222" stroke-width="1.4" />
<polygon points="845.5,1214.6 851,1214.4 851,1217.6" fill="#222"/>
<polygon points="864,1204 868.4,1203.4 868,1208.6 865,1209.5" fill="#000"/>
<line x1="721.00" y1="1288.00" x2="722.80" y2="1291.40" stroke="#222" stroke-width="1.4" />
<line x1="723.80" y1="1286.40" x2="725.60" y2="1289.80" stroke="#222" stroke-width="1.4" />
<line x1="726.60" y1="1284.80" x2="728.40" y2="1288.20" stroke="#222" stroke-width="1.4" />
<line x1="729.40" y1="1283.20" x2="731.20" y2="1286.60" stroke="#222" stroke-width="1.4" />
<line x1="732.20" y1="1281.60" x2="734.00" y2="1285.00" stroke="#222" stroke-width="1.4" />
<line x1="735.00" y1="1280.00" x2="736.80" y2="1283.40" stroke="#222" stroke-width="1.4" />
<polygon points="716.5,1288.6 721,1288.4 722,1291.6" fill="#222"/>
<polygon points="735,1278 739.4,1277.4 739,1282.8 736,1283.5" fill="#000"/>
<polygon points="669.6,1316.2 678.6,1312.4 678,1317.6 674,1318.2" fill="#000"/>
<path d="M1187.1,1249.4 L1440.6,1105.1 L1440.6,912.2 Q1440.5,906.5 1436,902.8 L1369.4,864.2 L1257.6,928.8 L1190.6,1044.5 Q1187.1,1050.5 1187.1,1057.5 Z" fill="none" stroke="#1c1c1c" stroke-width="1.9" stroke-linejoin="round" stroke-linecap="round" />
<path d="M1186.9,1249 L1186.9,1251.5 L1197.3,1256 L1449.2,1112 L1449.2,917.4 Q1449,911.5 1444.5,908.6 L1437.5,903.8" fill="none" stroke="#1c1c1c" stroke-width="1.9" stroke-linejoin="round" stroke-linecap="round" />
<line x1="1440.60" y1="1105.10" x2="1449.20" y2="1112.00" stroke="#1c1c1c" stroke-width="1.9" />
<path d="M1440.8,911.5 L1448.6,916" fill="none" stroke="#444" stroke-width="1.3" stroke-linejoin="round" stroke-linecap="round" />
<g clip-path="url(#rh1)">
<circle r="22.9" transform="matrix(0.704,-0.402,0,0.822,1321.30,980.50)" fill="none" stroke="#1c1c1c" stroke-width="1.9" vector-effect="non-scaling-stroke" />
</g>
<circle r="22.9" transform="matrix(0.704,-0.402,0,0.822,1313.70,976.10)" fill="none" stroke="#1c1c1c" stroke-width="1.9" vector-effect="non-scaling-stroke" />
<g clip-path="url(#rh2)">
<circle r="22.9" transform="matrix(0.704,-0.402,0,0.822,1321.30,1084.40)" fill="none" stroke="#1c1c1c" stroke-width="1.9" vector-effect="non-scaling-stroke" />
</g>
<circle r="22.9" transform="matrix(0.704,-0.402,0,0.822,1313.70,1080.00)" fill="none" stroke="#1c1c1c" stroke-width="1.9" vector-effect="non-scaling-stroke" />
<circle r="10.2" transform="matrix(0.704,-0.402,0,0.822,1209.00,1079.00)" fill="none" stroke="#000" stroke-width="3.0" vector-effect="non-scaling-stroke" />
<g clip-path="url(#rs0)">
<circle r="10.6" transform="matrix(0.704,-0.402,0,0.822,1212.40,1081.20)" fill="none" stroke="#000" stroke-width="2.0" vector-effect="non-scaling-stroke" />
<circle r="4.6" transform="matrix(0.704,-0.402,0,0.822,1214.60,1083.60)" fill="none" stroke="#222" stroke-width="1.6" vector-effect="non-scaling-stroke" />
</g>
<circle r="10.2" transform="matrix(0.704,-0.402,0,0.822,1272.70,1126.20)" fill="none" stroke="#000" stroke-width="3.0" vector-effect="non-scaling-stroke" />
<g clip-path="url(#rs1)">
<circle r="10.6" transform="matrix(0.704,-0.402,0,0.822,1276.10,1128.40)" fill="none" stroke="#000" stroke-width="2.0" vector-effect="non-scaling-stroke" />
<circle r="4.6" transform="matrix(0.704,-0.402,0,0.822,1278.30,1130.80)" fill="none" stroke="#222" stroke-width="1.6" vector-effect="non-scaling-stroke" />
</g>
<circle r="10.2" transform="matrix(0.704,-0.402,0,0.822,1354.50,1079.00)" fill="none" stroke="#000" stroke-width="3.0" vector-effect="non-scaling-stroke" />
<g clip-path="url(#rs2)">
<circle r="10.6" transform="matrix(0.704,-0.402,0,0.822,1357.90,1081.20)" fill="none" stroke="#000" stroke-width="2.0" vector-effect="non-scaling-stroke" />
<circle r="4.6" transform="matrix(0.704,-0.402,0,0.822,1360.10,1083.60)" fill="none" stroke="#222" stroke-width="1.6" vector-effect="non-scaling-stroke" />
</g>
<circle r="10.2" transform="matrix(0.704,-0.402,0,0.822,1418.20,958.00)" fill="none" stroke="#000" stroke-width="3.0" vector-effect="non-scaling-stroke" />
<g clip-path="url(#rs3)">
<circle r="10.6" transform="matrix(0.704,-0.402,0,0.822,1421.60,960.20)" fill="none" stroke="#000" stroke-width="2.0" vector-effect="non-scaling-stroke" />
<circle r="4.6" transform="matrix(0.704,-0.402,0,0.822,1423.80,962.60)" fill="none" stroke="#222" stroke-width="1.6" vector-effect="non-scaling-stroke" />
</g>
<path d="M1365.7,943.7 L1398.0,960.6 L1392.2,968.9 L1384.9,965.2 L1380.2,975.5 L1356.2,960.6 Z" fill="none" stroke="#000" stroke-width="2.7" stroke-linejoin="round" stroke-linecap="round" />
<path d="M1362.8,953.0 L1384.7,964.4" fill="none" stroke="#000" stroke-width="3.0" stroke-linejoin="round" stroke-linecap="round" />
<path d="M1364.8,948.2 L1386.5,959.6" fill="none" stroke="#000" stroke-width="2.4" stroke-linejoin="round" stroke-linecap="round" />
<path d="M1383.1,953.2 L1381.4,959.0" fill="none" stroke="#000" stroke-width="2.2" stroke-linejoin="round" stroke-linecap="round" />
<path d="M1371.9,959.0 L1369.4,967.3" fill="none" stroke="#000" stroke-width="2.2" stroke-linejoin="round" stroke-linecap="round" />
<path d="M1358.5,955.0 L1360.5,961.8" fill="none" stroke="#000" stroke-width="3.2" stroke-linejoin="round" stroke-linecap="round" />
<path d="M1220.7,1027.9 L1252.0,1045.2 L1250.5,1047.7" fill="none" stroke="#000" stroke-width="2.5" stroke-linejoin="round" stroke-linecap="round" />
<path d="M1220.7,1027.9 L1211.2,1043.4 L1234.6,1059.7 L1237.2,1055.0" fill="none" stroke="#000" stroke-width="2.5" stroke-linejoin="round" stroke-linecap="round" />
<path d="M1217.8,1037.2 L1236.5,1047.2" fill="none" stroke="#000" stroke-width="2.8" stroke-linejoin="round" stroke-linecap="round" />
<path d="M1219.8,1032.4 L1238.0,1042.0" fill="none" stroke="#000" stroke-width="2.4" stroke-linejoin="round" stroke-linecap="round" />
<path d="M1229.2,1030.2 L1228.3,1043.4" fill="none" stroke="#000" stroke-width="2.4" stroke-linejoin="round" stroke-linecap="round" />
<path d="M1237.6,1037.7 L1236.5,1050.2" fill="none" stroke="#000" stroke-width="1.6" stroke-linejoin="round" stroke-linecap="round" />
<path d="M1226.5,1044.0 L1223.7,1051.8" fill="none" stroke="#000" stroke-width="1.6" stroke-linejoin="round" stroke-linecap="round" />
<path d="M1230.6,1033.5 L1251.9,1045.2 L1250.6,1047.6" fill="none" stroke="#000" stroke-width="2.0" stroke-linejoin="round" stroke-linecap="round" />
<path d="M1365.5,1102.3 L1372.9,1101.9 L1389.3,1110.7 L1389.3,1117.3 L1368.7,1129.4 L1353.3,1120.5 L1349.6,1113.0 Z" fill="none" stroke="#000" stroke-width="2.0" stroke-linejoin="round" stroke-linecap="round" />
<path d="M1365.5,1103.8 L1385.2,1114 L1385.2,1119.6" fill="none" stroke="#222" stroke-width="1.5" stroke-linejoin="round" stroke-linecap="round" />
<path d="M1357.5,1119.6 L1374.8,1111.2" fill="none" stroke="#222" stroke-width="1.5" stroke-linejoin="round" stroke-linecap="round" />
<path d="M1352,1117 L1355.5,1121" fill="none" stroke="#222" stroke-width="1.6" stroke-linejoin="round" stroke-linecap="round" />
<path d="M1372.9,1103 L1388,1111.5" fill="none" stroke="#444" stroke-width="1.2" stroke-linejoin="round" stroke-linecap="round" />
<line x1="1377.00" y1="1109.20" x2="1377.20" y2="1113.80" stroke="#222" stroke-width="1.4" />
<line x1="1380.60" y1="1111.20" x2="1380.80" y2="1115.80" stroke="#222" stroke-width="1.4" />
<line x1="1384.20" y1="1113.20" x2="1384.40" y2="1117.80" stroke="#222" stroke-width="1.4" />
<path d="M1236.1,1176.8 L1243.5,1176.4 L1259.9,1185.2 L1259.9,1191.8 L1239.3,1203.9 L1223.9,1195.0 L1220.2,1187.5 Z" fill="none" stroke="#000" stroke-width="2.0" stroke-linejoin="round" stroke-linecap="round" />
<path d="M1236.1,1178.3 L1255.8,1188.5 L1255.8,1194.1" fill="none" stroke="#222" stroke-width="1.5" stroke-linejoin="round" stroke-linecap="round" />
<path d="M1228.1,1194.1 L1245.3999999999999,1185.7" fill="none" stroke="#222" stroke-width="1.5" stroke-linejoin="round" stroke-linecap="round" />
<path d="M1222.6,1191.5 L1226.1,1195.5" fill="none" stroke="#222" stroke-width="1.6" stroke-linejoin="round" stroke-linecap="round" />
<path d="M1243.5,1177.5 L1258.6,1186.0" fill="none" stroke="#444" stroke-width="1.2" stroke-linejoin="round" stroke-linecap="round" />
<line x1="1247.60" y1="1183.70" x2="1247.80" y2="1188.30" stroke="#222" stroke-width="1.4" />
<line x1="1251.20" y1="1185.70" x2="1251.40" y2="1190.30" stroke="#222" stroke-width="1.4" />
<line x1="1254.80" y1="1187.70" x2="1255.00" y2="1192.30" stroke="#222" stroke-width="1.4" />
<rect x="1184" y="1199" width="6" height="28" fill="#fff"/>
<path d="M1410.7,1058.5 L1421.0,1058.5 L1436.4,1067.3 L1436.4,1087.9 L1430.3,1093.5 L1410.7,1078.5 Z" fill="none" stroke="#000" stroke-width="2.0" stroke-linejoin="round" stroke-linecap="round" />
<line x1="1422.40" y1="1060.80" x2="1422.40" y2="1082.30" stroke="#555" stroke-width="1.4" />
<line x1="1412.60" y1="1060.50" x2="1412.60" y2="1077.50" stroke="#666" stroke-width="1.2" />
<path d="M1411,1077 L1422.4,1082.3 L1434,1087.3" fill="none" stroke="#222" stroke-width="1.6" stroke-linejoin="round" stroke-linecap="round" />
<path d="M1413.5,1080.8 L1429,1091.5" fill="none" stroke="#333" stroke-width="1.3" stroke-linejoin="round" stroke-linecap="round" />
<line x1="1424.50" y1="1084.30" x2="1424.50" y2="1088.30" stroke="#222" stroke-width="1.3" />
<line x1="1427.70" y1="1085.70" x2="1427.70" y2="1089.70" stroke="#222" stroke-width="1.3" />
<line x1="1430.90" y1="1087.10" x2="1430.90" y2="1091.10" stroke="#222" stroke-width="1.3" />
<path d="M1173.1,1195.3 L1183.4,1195.3 L1198.8,1204.1 L1198.8,1224.7 L1192.7,1230.3 L1173.1,1215.3 Z" fill="none" stroke="#000" stroke-width="2.0" stroke-linejoin="round" stroke-linecap="round" />
<line x1="1184.80" y1="1197.60" x2="1184.80" y2="1219.10" stroke="#555" stroke-width="1.4" />
<line x1="1175.00" y1="1197.30" x2="1175.00" y2="1214.30" stroke="#666" stroke-width="1.2" />
<path d="M1173.4,1213.8 L1184.8000000000002,1219.1 L1196.4,1224.1" fill="none" stroke="#222" stroke-width="1.6" stroke-linejoin="round" stroke-linecap="round" />
<path d="M1175.9,1217.6 L1191.4,1228.3" fill="none" stroke="#333" stroke-width="1.3" stroke-linejoin="round" stroke-linecap="round" />
<line x1="1186.90" y1="1221.10" x2="1186.90" y2="1225.10" stroke="#222" stroke-width="1.3" />
<line x1="1190.10" y1="1222.50" x2="1190.10" y2="1226.50" stroke="#222" stroke-width="1.3" />
<line x1="1193.30" y1="1223.90" x2="1193.30" y2="1227.90" stroke="#222" stroke-width="1.3" /></g></svg></body></html>
